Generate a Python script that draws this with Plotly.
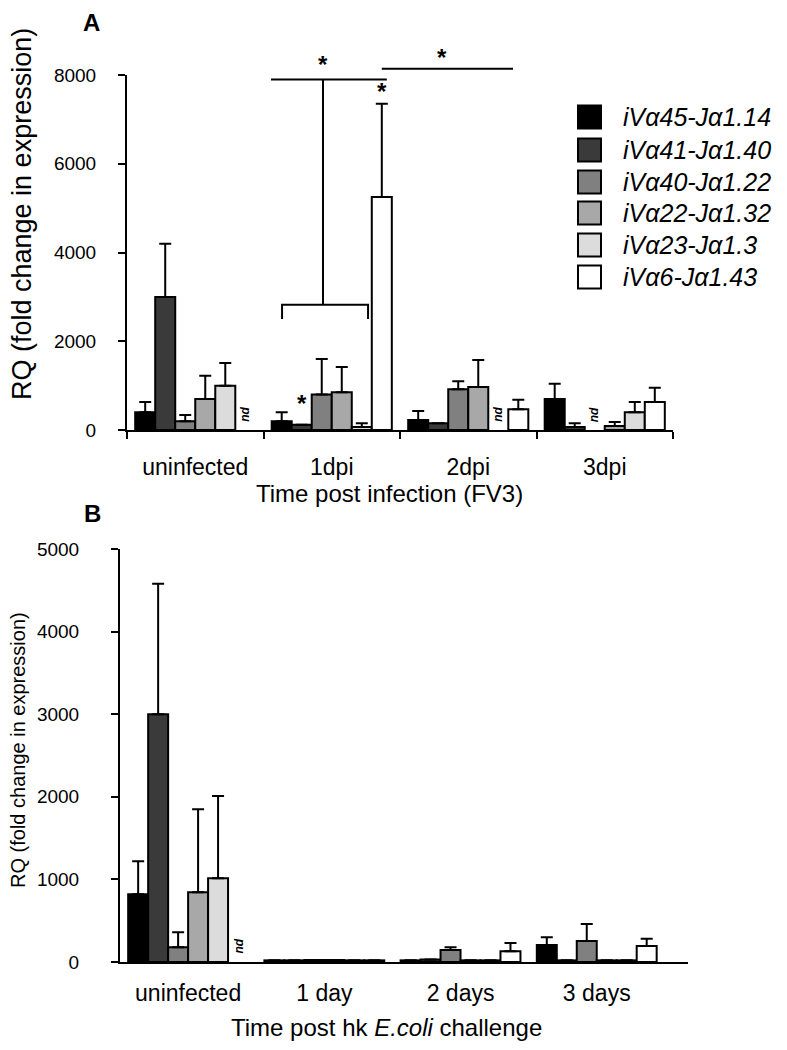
import plotly.graph_objects as go

W, H = 787, 1050
OFF = 8  # page body margin of the html page


def PX(x):
    return (x - OFF) / W


def PY(y):
    return 1 - (y - OFF) / H


series = ["iVα45-Jα1.14", "iVα41-Jα1.40", "iVα40-Jα1.22",
          "iVα22-Jα1.32", "iVα23-Jα1.3", "iVα6-Jα1.43"]
colors = ["#000000", "#3a3a3a", "#808080", "#a8a8a8", "#dcdcdc", "#ffffff"]

groups_a = ["uninfected", "1dpi", "2dpi", "3dpi"]
groups_b = ["uninfected", "1 day", "2 days", "3 days"]

# Panel A (FV3) – None = not detected (nd)
a_vals = [
    [400, 200, 225, 700],
    [3000, 120, 150, 70],
    [200, 800, 920, None],
    [700, 850, 970, 90],
    [1000, 70, None, 400],
    [None, 5250, 470, 630],
]
a_err = [
    [230, 200, 205, 340],
    [1200, None, None, 80],
    [140, 800, 180, None],
    [520, 570, 610, 90],
    [510, 80, None, 230],
    [None, 2100, 210, 320],
]

# Panel B (hk E.coli)
b_vals = [
    [820, 20, 20, 205],
    [3000, 20, 30, 20],
    [180, 25, 145, 255],
    [845, 25, 20, 20],
    [1015, 20, 20, 20],
    [None, 20, 130, 195],
]
b_err = [
    [400, None, None, 95],
    [1580, None, None, None],
    [180, None, 35, 205],
    [1005, None, None, None],
    [995, None, None, None],
    [None, None, 100, 85],
]

a_ymax, b_ymax = 8000, 5000
a_ticks = [0, 2000, 4000, 6000, 8000]
b_ticks = [0, 1000, 2000, 3000, 4000, 5000]

BARGAP = 0.12
NB = len(series)
BW = (1 - BARGAP) / NB


def offs(i):
    return (i - (NB - 1) / 2) * BW


FONT = "Liberation Sans, Arial, sans-serif"

fig = go.Figure()

for vals, errs, grps, xa, ya in [
        (a_vals, a_err, groups_a, "x", "y"),
        (b_vals, b_err, groups_b, "x2", "y2")]:
    for i, name in enumerate(series):
        fig.add_trace(go.Bar(
            x=grps, y=vals[i], name=name, xaxis=xa, yaxis=ya,
            marker=dict(color=colors[i], line=dict(color="black", width=2)),
            error_y=dict(type="data", array=errs[i],
                         arrayminus=[0 if e is not None else None for e in errs[i]],
                         symmetric=False, color="black", thickness=2, width=6),
            showlegend=False, offsetgroup=str(i),
        ))

axis_common = dict(showline=True, linecolor="black", linewidth=2,
                   showgrid=False, zeroline=False, mirror=False, automargin=False)

fig.update_layout(
    template="none",
    width=W, height=H, margin=dict(l=0, r=0, t=0, b=0, autoexpand=False),
    paper_bgcolor="white", plot_bgcolor="white",
    barmode="group", bargap=BARGAP, bargroupgap=0,
    font=dict(family=FONT, color="black"),
    xaxis=dict(domain=[PX(127), PX(673)], anchor="y", type="category",
               range=[-0.5, 3.5], ticks="outside", ticklen=7, tickwidth=2,
               tickcolor="black", tickson="boundaries",
               tickfont=dict(size=23), ticklabelstandoff=15,
               **axis_common),
    yaxis=dict(domain=[PY(430), PY(75)], anchor="x",
               range=[0, a_ymax], tickvals=a_ticks, ticks="outside", ticklen=7,
               tickwidth=2, tickcolor="black", tickfont=dict(size=19),
               ticklabelstandoff=18,
               **axis_common),
    xaxis2=dict(domain=[PX(120), PX(688)], anchor="y2", type="category",
                range=[-0.5, 3.67], ticks="", tickfont=dict(size=23),
                ticklabelstandoff=9,
                **axis_common),
    yaxis2=dict(domain=[PY(962), PY(549)], anchor="x2",
                range=[0, b_ymax], tickvals=b_ticks, ticks="outside", ticklen=7,
                tickwidth=2, tickcolor="black", tickfont=dict(size=19),
                ticklabelstandoff=28,
                **axis_common),
)

# axis titles (placed as in the original figure)
titles = [
    ("Time post infection (FV3)", 389, 493, 0, 24),
    ("Time post hk <i>E.coli</i> challenge", 386, 1027, 0, 24),
    ("RQ (fold change in expression)", 22, 214, -90, 27),
    ("RQ (fold change in expression)", 18, 750, -90, 20),
]
for txt, tx, ty, ang, sz in titles:
    fig.add_annotation(x=PX(tx), y=PY(ty), xref="paper", yref="paper", text=txt,
                       showarrow=False, textangle=ang, xanchor="center", yanchor="middle",
                       font=dict(size=sz, family=FONT))

# "nd" labels for non-detected values
for vals, xa, ya in [(a_vals, "x", "y"), (b_vals, "x2", "y2")]:
    for i in range(NB):
        for g, v in enumerate(vals[i]):
            if v is None:
                fig.add_annotation(x=g + offs(i), y=0, xref=xa, yref=ya,
                                   text="<b><i>nd</i></b>", showarrow=False,
                                   textangle=-90, yanchor="bottom", yshift=6,
                                   font=dict(size=12, family=FONT))


# significance marks on panel A (data values converted to y-domain fraction)
def yd(v):
    return v / a_ymax


line = dict(color="black", width=2)
fig.add_shape(type="line", xref="x", yref="y domain", x0=0.555, x1=1 + offs(5) + BW * 0.25,
              y0=yd(7900), y1=yd(7900), line=line)
fig.add_shape(type="line", xref="x", yref="y domain", x0=0.936, x1=0.936,
              y0=yd(2820), y1=yd(7900), line=line)
fig.add_shape(type="path", xref="x", yref="y domain",
              path=f"M 0.636 {yd(2500)} L 0.636 {yd(2820)} L 1.266 {yd(2820)} L 1.266 {yd(2500)}",
              line=line)
fig.add_shape(type="line", xref="x", yref="y domain", x0=1 + offs(5), x1=2.328,
              y0=yd(8140), y1=yd(8140), line=line)

stars = [
    (0.936, 8230),
    (1.81, 8390),
    (1 + offs(5), 7620),
    (1 + offs(1), 600),
]
for sx, sy in stars:
    fig.add_annotation(x=sx, y=yd(sy), xref="x", yref="y domain", text="<b>*</b>",
                       showarrow=False, font=dict(size=24, family=FONT),
                       yanchor="middle")

# manual legend (large swatches)
leg_y = [117, 150, 182, 213, 245, 277]
for i, name in enumerate(series):
    yc = PY(leg_y[i])
    fig.add_shape(type="rect", xref="paper", yref="paper",
                  x0=PX(578), x1=PX(601), y0=yc - 11.5 / H, y1=yc + 11.5 / H,
                  fillcolor=colors[i], line=dict(color="black", width=2))
    fig.add_annotation(x=PX(621), y=yc, xref="paper", yref="paper",
                       text=f"<i>{name}</i>", showarrow=False, xanchor="left",
                       yanchor="middle", font=dict(size=25, family=FONT))

# panel letters
fig.add_annotation(x=PX(82), y=1, xref="paper", yref="paper", text="<b>A</b>",
                   showarrow=False, font=dict(size=24, family=FONT), yanchor="top",
                   borderpad=0)
fig.add_annotation(x=PX(82), y=PY(513), xref="paper", yref="paper", text="<b>B</b>",
                   showarrow=False, font=dict(size=24, family=FONT), yanchor="middle")

fig.write_html("out.html")
